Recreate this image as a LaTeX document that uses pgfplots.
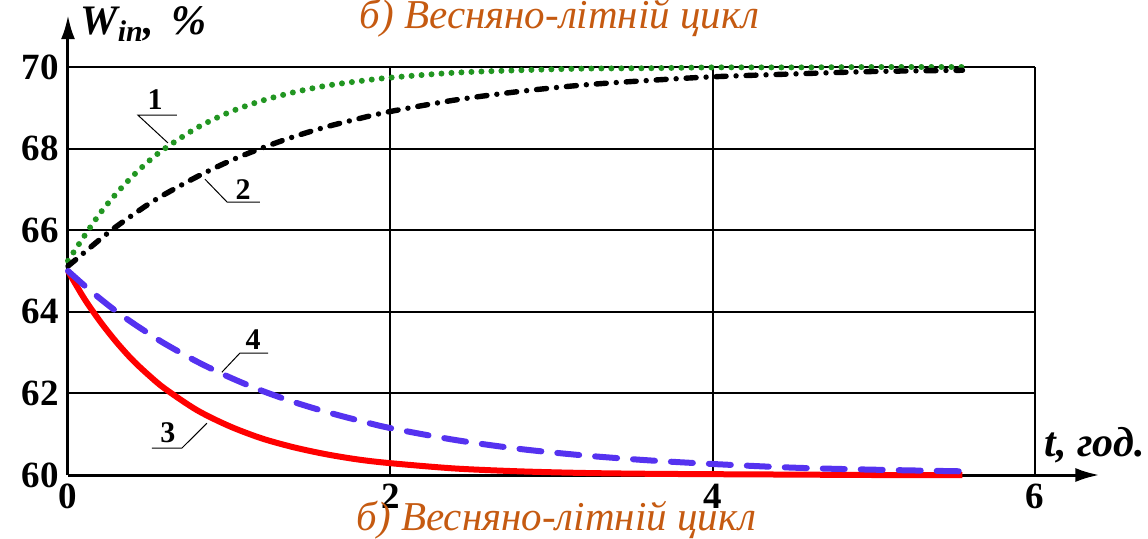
\documentclass[border=0pt]{standalone}
\usepackage{fontspec}
\setmainfont{Liberation Serif}
\usepackage{pgfplots}
\pgfplotsset{compat=1.18}
\usetikzlibrary{arrows.meta}
\definecolor{cgreen}{RGB}{34,150,34}
\definecolor{cblue}{RGB}{85,50,240}
\definecolor{corange}{RGB}{197,90,17}
\begin{document}
\begin{tikzpicture}
\useasboundingbox (-34pt,-31.5pt) rectangle (540pt,237.5pt);
\begin{axis}[
  at={(0,0)}, anchor=south west,
  scale only axis, width=483.5pt, height=204pt,
  xmin=0, xmax=6, ymin=60, ymax=70,
  xtick={0,2,4,6}, ytick={60,62,64,66,68,70},
  grid=major, grid style={black, line width=1pt},
  axis lines=left, axis line style={line width=1.5pt, -},
  major tick length=0pt,
  clip=false,
  /pgf/number format/assume math mode=true,
  ticklabel style={font=\fontsize{18.5}{20}\selectfont\bfseries},
  xticklabel style={yshift=-1pt},
  yticklabel style={xshift=-1pt},
]
% curve 1 (green dotted)
\addplot[cgreen, line width=3pt, line cap=round, dash pattern=on 0pt off 5pt, smooth] coordinates {
(0,65.25)(0.1,65.85)(0.2,66.42)(0.3,66.90)(0.4,67.32)(0.5,67.69)(0.6,68.00)(0.8,68.51)(1.0,68.89)(1.2,69.17)(1.4,69.38)(1.6,69.54)(1.8,69.65)(2.0,69.74)(2.4,69.86)(2.8,69.92)(3.2,69.96)(3.6,69.97)(4.0,69.99)(4.5,69.99)(5.0,70.0)(5.55,70.0)};
% curve 2 (black dash-dot)
\addplot[black, line width=2.7pt, line cap=round, dash pattern=on 5pt off 5pt on 0pt off 5pt, smooth] coordinates {
(0,65.12)(0.1,65.45)(0.2,65.78)(0.3,66.09)(0.4,66.37)(0.5,66.64)(0.6,66.88)(0.8,67.31)(1.0,67.69)(1.2,68.01)(1.4,68.29)(1.6,68.53)(1.8,68.73)(2.0,68.91)(2.4,69.19)(2.8,69.40)(3.2,69.56)(3.6,69.67)(4.0,69.76)(4.5,69.83)(5.0,69.89)(5.55,69.92)};
% curve 3 (red solid)
\addplot[red, line width=3pt, smooth] coordinates {
(0,65.00)(0.1,64.33)(0.2,63.76)(0.3,63.26)(0.4,62.82)(0.5,62.45)(0.6,62.12)(0.8,61.59)(1.0,61.20)(1.2,60.90)(1.4,60.68)(1.6,60.51)(1.8,60.38)(2.0,60.29)(2.4,60.16)(2.8,60.09)(3.2,60.05)(3.6,60.03)(4.0,60.02)(4.5,60.01)(5.0,60.0)(5.55,60.0)};
% curve 4 (blue dashed)
\addplot[cblue, line width=3pt, line cap=round, dash pattern=on 11pt off 8pt, smooth] coordinates {
(0,65.00)(0.1,64.65)(0.2,64.32)(0.3,64.01)(0.4,63.73)(0.5,63.47)(0.6,63.22)(0.8,62.78)(1.0,62.40)(1.2,62.07)(1.4,61.79)(1.6,61.55)(1.8,61.34)(2.0,61.15)(2.4,60.86)(2.8,60.64)(3.2,60.48)(3.6,60.36)(4.0,60.27)(4.5,60.18)(5.0,60.13)(5.55,60.09)};
% axis arrows
\draw[line width=1.5pt, -{Latex[length=12pt,width=7pt]}] (axis cs:0,69.9) -- (axis cs:0,71.27);
\draw[line width=1.5pt, -{Latex[length=12pt,width=7pt]}] (axis cs:5.9,60) -- (axis cs:6.40,60);
% axis labels
\node[anchor=west, inner sep=0pt, font=\fontsize{21}{22}\selectfont\bfseries\itshape] at (axis cs:0.075,71.05) {W\textsubscript{\fontsize{15}{15}\selectfont in}, \,\%};
\node[font=\fontsize{21}{22}\selectfont\bfseries\itshape] at (axis cs:6.37,60.74) {t, год.};
% titles
\node[anchor=base, text=corange, font=\fontsize{20.5}{22}\selectfont\itshape] at (axis cs:3.05,70.94) {б) Весняно-літній цикл};
\node[anchor=base, text=corange, font=\fontsize{20.5}{22}\selectfont\itshape] at (axis cs:3.03,58.65) {б) Весняно-літній цикл};
% curve labels with leaders
\draw[line width=0.5pt] (axis cs:0.676,68.82) -- (axis cs:0.434,68.82) -- (axis cs:0.620,68.14);
\node[font=\fontsize{15}{16}\selectfont\bfseries] at (axis cs:0.54,69.19) {1};
\draw[line width=0.5pt] (axis cs:1.191,66.69) -- (axis cs:0.987,66.69) -- (axis cs:0.850,67.25);
\node[font=\fontsize{15}{16}\selectfont\bfseries] at (axis cs:1.086,66.985) {2};
\draw[line width=0.5pt] (axis cs:1.241,62.99) -- (axis cs:1.067,62.99) -- (axis cs:0.955,62.52);
\node[font=\fontsize{15}{16}\selectfont\bfseries] at (axis cs:1.148,63.31) {4};
\draw[line width=0.5pt] (axis cs:0.521,60.66) -- (axis cs:0.707,60.66) -- (axis cs:0.862,61.27);
\node[font=\fontsize{15}{16}\selectfont\bfseries] at (axis cs:0.62,61.03) {3};
\end{axis}
\end{tikzpicture}
\end{document}
